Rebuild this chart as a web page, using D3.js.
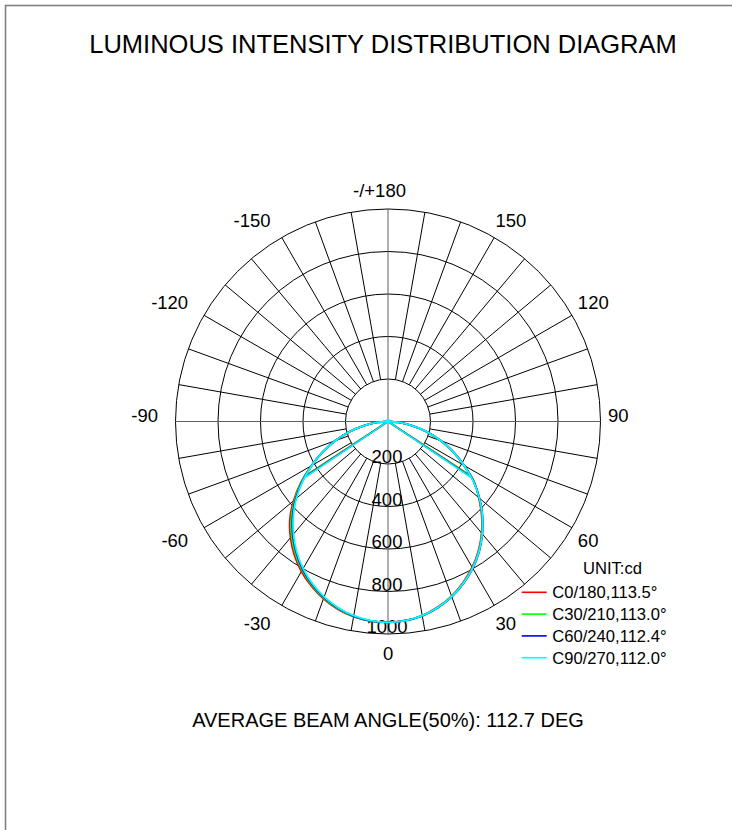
<!DOCTYPE html>
<html>
<head>
<meta charset="utf-8">
<script src="https://cdn.jsdelivr.net/npm/d3@7"></script>
<style>
  html,body{margin:0;padding:0;background:#fff;}
  svg{display:block;}
  text{font-family:"Liberation Sans",Arial,Helvetica,sans-serif;fill:#000;}
</style>
</head>
<body>
<script>
// ---------------- DATA ----------------
const titleText = "LUMINOUS INTENSITY DISTRIBUTION DIAGRAM";
const footerText = "AVERAGE BEAM ANGLE(50%): 112.7 DEG";
const unitText = "UNIT:cd";

// gamma angles (deg) of the measured intensities
const gammas = [0,5,10,15,20,25,30,35,40,45,50,55,60,65,70,75,80,85,90];

// intensities (cd) – right half and left half of each C-plane pair
const c0   = [945,940,927,904,874,836,792,742,685,623,557,495,412,336,260,186,115,51,0];
const c180 = [945,943,933,914,888,854,815,768,714,653,580,500,418,340,262,188,116,52,0];
const c30  = [945,941,928,906,876,839,796,746,689,627,561,492,412,338,263,189,117,52,0];
const c210 = [945,942,931,911,884,849,808,760,705,643,573,496,416,340,264,190,118,52,0];
const c60  = [945,941,929,907,878,841,798,748,691,629,562,492,414,341,266,192,119,53,0];
const c240 = [945,942,930,909,881,845,803,753,697,635,567,493,414,340,265,191,119,53,0];
const c90  = [945,941,928,906,877,840,797,747,690,628,561,490,413,340,265,191,119,53,0];
const c270 = [945,941,928,907,878,842,799,749,692,630,563,490,413,339,264,190,118,52,0];

const seriesLabels = ["C0/180,113.5°","C30/210,113.0°","C60/240,112.4°","C90/270,112.0°"];
const beamAngles   = [113.5, 113.0, 112.4, 112.0];
const rightHalves  = [c0, c30, c60, c90];
const leftHalves   = [c180, c210, c240, c270];

const radialTicks = [200,400,600,800,1000];
const angleTickValues = [0,30,60,90,120,150,180,210,240,270,300,330];
const angleTickLabels = ["0","30","60","90","120","150","-/+180","-150","-120","-90","-60","-30"];

// ---------------- STYLE / LAYOUT ----------------
const W = 732, H = 830;
const cx = 388, cy = 421.5, R = 212.5;
const seriesColors = ["#ff0000","#00ff00","#0000ff","#00ffff"];

const svg = d3.select("body").append("svg").attr("width", W).attr("height", H);

// page frame
svg.append("rect").attr("x",5.5).attr("y",5.5).attr("width",W+20).attr("height",H+20)
   .attr("fill","none").attr("stroke","#808080").attr("stroke-width",1.6);

svg.append("text").attr("x",383).attr("y",53.3).attr("text-anchor","middle")
   .style("font-size","25.5px").text(titleText);

svg.append("text").attr("x",388).attr("y",727.3).attr("text-anchor","middle")
   .style("font-size","20px").text(footerText);

const g = svg.append("g").attr("transform",`translate(${cx},${cy})`);
const r = d3.scaleLinear().domain([0, 1000]).range([0, R]);
const toRad = d => d * Math.PI / 180;
// theta measured from downward direction, positive toward the right
const ang = theta => Math.PI - toRad(theta);

// circles
g.selectAll("circle.grid").data(radialTicks).join("circle")
  .attr("class","grid").attr("r", d => r(d))
  .attr("fill","none").attr("stroke","#000").attr("stroke-width",1);

// spokes
const spokeAngles = d3.range(0, 360, 10);
const radial = d3.lineRadial().angle(d => ang(d.t)).radius(d => d.r);
g.selectAll("path.spoke").data(spokeAngles).join("path")
  .attr("class","spoke")
  .attr("d", t => radial([{t, r: (t % 90 === 0) ? 0 : r(radialTicks[0])}, {t, r: r(radialTicks[radialTicks.length-1])}]))
  .attr("stroke", t => (t % 90 === 0) ? "#606060" : "#000")
  .attr("stroke-width", 1).attr("fill","none");

// radial labels
g.selectAll("text.rl").data(radialTicks).join("text")
  .attr("class","rl").attr("x",-1).attr("y", d => r(d) - 1)
  .attr("text-anchor","middle").style("font-size","18.5px").text(d => d);

// angle labels
const labR = 225, labShift = -5;
g.selectAll("text.al").data(angleTickValues).join("text")
  .attr("class","al")
  .each(function(t, i){
    const s = Math.sin(toRad(t)), c = Math.cos(toRad(t));
    let x = labR * s + labShift, y = labR * c;
    let anchor = "start";
    if (t === 180) { anchor = "middle"; x -= 3.5; }
    else if (s < -0.01) anchor = "end";
    const sel = d3.select(this);
    sel.attr("x", x).attr("text-anchor", anchor)
       .attr("y", c > 0.01 ? y + 13.3 : y)
       .style("font-size","18.5px").text(angleTickLabels[i]);
  });

// curves
const curveLine = d3.lineRadial()
  .angle(d => ang(d.t)).radius(d => r(d.v))
  .curve(d3.curveCatmullRom.alpha(0.5));

rightHalves.forEach((rh, k) => {
  const lh = leftHalves[k];
  const pts = [];
  for (let i = gammas.length - 1; i >= 0; i--) pts.push({t: -gammas[i], v: lh[i]});
  for (let i = 1; i < gammas.length; i++) pts.push({t: gammas[i], v: rh[i]});
  g.append("path").attr("d", curveLine(pts))
    .attr("fill","none").attr("stroke", seriesColors[k]).attr("stroke-width",1.8);
  const half = beamAngles[k] / 2, i0 = rh[0] / 2;
  [-half, half].forEach(t => {
    g.append("path").attr("d", radial([{t, r:0},{t, r:r(i0)}]))
      .attr("fill","none").attr("stroke", seriesColors[k]).attr("stroke-width",1.5);
  });
});
g.append("circle").attr("r",2.4).attr("fill", seriesColors[3]);

// legend
const lg = svg.append("g");
lg.append("text").attr("x",612.5).attr("y",574.3).attr("text-anchor","middle")
  .style("font-size","16.6px").text(unitText);
seriesLabels.forEach((lab, k) => {
  const y = 592.3 + k * 21.8;
  lg.append("line").attr("x1",521.7).attr("x2",546.7).attr("y1",y).attr("y2",y)
    .attr("stroke", seriesColors[k]).attr("stroke-width",1.6);
  lg.append("text").attr("x",552.3).attr("y", y + 6).style("font-size","16.6px").text(lab);
});
</script>
</body>
</html>
